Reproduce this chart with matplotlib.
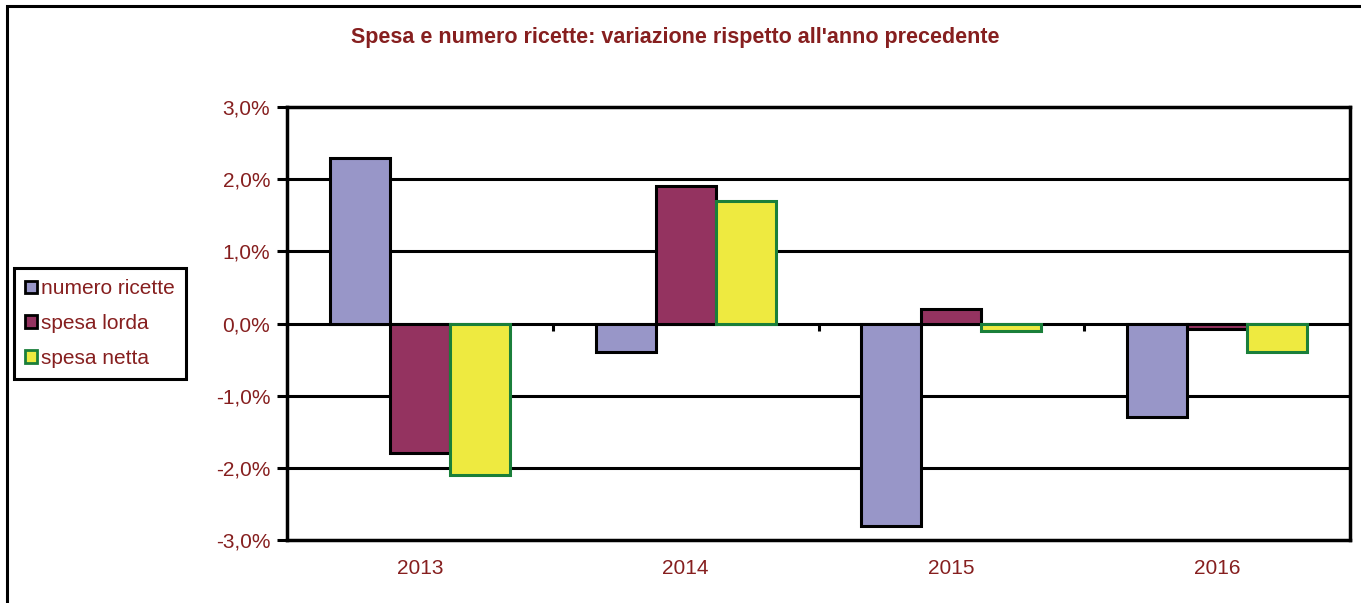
import matplotlib
matplotlib.use("Agg")
import matplotlib.pyplot as plt
import numpy as np
from matplotlib.patches import Patch, Rectangle
from matplotlib.ticker import FuncFormatter

plt.rcParams["font.family"] = ["Liberation Sans", "DejaVu Sans"]

years = ["2013", "2014", "2015", "2016"]
numero_ricette = [2.3, -0.4, -2.8, -1.3]
spesa_lorda = [-1.8, 1.9, 0.2, -0.07]
spesa_netta = [-2.1, 1.7, -0.1, -0.4]
series_names = ["numero ricette", "spesa lorda", "spesa netta"]
title = "Spesa e numero ricette: variazione rispetto all'anno precedente"

TXT = "#861F1F"
face_colors = ["#9896C8", "#943360", "#EEEA40"]
edge_colors = ["black", "black", "#1A7F3A"]

fig = plt.figure(figsize=(13.61, 6.03), dpi=100)
ax = fig.add_axes([0.2109, 0.1045, 0.781, 0.718])

x = np.arange(len(years))
w = 0.226
for i, vals in enumerate([numero_ricette, spesa_lorda, spesa_netta]):
    ax.bar(x + (i - 1) * w, vals, width=w, color=face_colors[i],
           edgecolor=edge_colors[i], linewidth=2.2, zorder=3,
           label=series_names[i])

ax.set_xlim(-0.5, len(years) - 0.5)
ax.set_ylim(-3, 3)
ax.set_yticks(np.arange(-3, 4, 1))
ax.yaxis.set_major_formatter(FuncFormatter(lambda v, _: f"{v:.1f}%".replace(".", ",")))
for yv in [-2, -1, 0, 1, 2]:
    ax.axhline(yv, color="black", linewidth=2.2, zorder=1)
# category boundary ticks on the zero line
ax.vlines(np.arange(len(years) + 1) - 0.5, -0.1, 0, color="black",
          linewidth=2.2, zorder=2)

ax.set_xticks(x)
ax.set_xticklabels(years)
ax.tick_params(axis="x", length=0, pad=14, labelsize=15, labelcolor=TXT)
ax.tick_params(axis="y", length=7, width=2.2, pad=5, labelsize=15,
               labelcolor=TXT, direction="out")
for s in ax.spines.values():
    s.set_linewidth(2.5)
    s.set_color("black")

fig.text(0.496, 0.937, title, ha="center", va="center", fontsize=15.5,
         fontweight="bold", color=TXT)

handles = [Patch(facecolor=face_colors[i], edgecolor=edge_colors[i],
                 linewidth=2, label=series_names[i]) for i in range(3)]
leg = fig.legend(handles=handles, loc="upper left",
                 bbox_to_anchor=(14 / 1361, 1 - 268 / 603), fontsize=15,
                 handlelength=0.55, handleheight=0.55, handletextpad=0.2,
                 labelspacing=0.75, borderpad=0.55, borderaxespad=0,
                 fancybox=False, edgecolor="black", framealpha=1)
leg.get_frame().set_linewidth(2.2)
for t in leg.get_texts():
    t.set_color(TXT)

fig.patches.append(Rectangle((0.005, -0.5), 2.0, 1.49, transform=fig.transFigure,
                             fill=False, edgecolor="black", linewidth=2.2))

fig.savefig("out.png", dpi=100)
